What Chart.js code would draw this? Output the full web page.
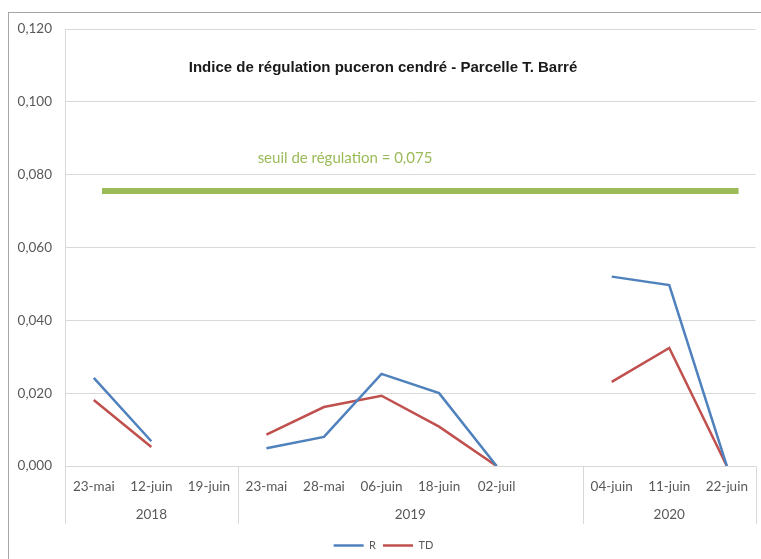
<!DOCTYPE html>
<html>
<head>
<meta charset="utf-8">
<script src="https://cdn.jsdelivr.net/npm/chart.js@4"></script>
<style>
  html, body { margin: 0; padding: 0; background: #fff; }
  #wrap { width: 761px; height: 559px; }
</style>
</head>
<body>
<div id="wrap"><canvas id="myChart" width="761" height="559"></canvas></div>
<script>
// dates de relevé (une case vide sépare 2019 et 2020)
const categories = ["23-mai", "12-juin", "19-juin", "23-mai", "28-mai", "06-juin", "18-juin", "02-juil", "", "04-juin", "11-juin", "22-juin"];
const years = ["2018", "2019", "2020"];
const yearSpans = [3, 6, 3];
const valuesR = [0.0242, 0.0068, null, 0.0049, 0.0080, 0.0253, 0.0200, 0, null, 0.0520, 0.0497, 0];
const valuesTD = [0.0181, 0.0052, null, 0.0086, 0.0162, 0.0193, 0.0108, 0, null, 0.0231, 0.0324, 0];
const seuil = 0.075;
const yTicks = [0, 0.02, 0.04, 0.06, 0.08, 0.1, 0.12];

const labelFont = "Lato, 'Liberation Sans', sans-serif";

const decorPlugin = {
  id: "decor",
  beforeDraw(chart) {
    const ctx = chart.ctx;
    ctx.save();
    ctx.fillStyle = "#fff";
    ctx.fillRect(0, 0, chart.width, chart.height);
    // cadre du graphique
    ctx.strokeStyle = "#a6a6a6";
    ctx.lineWidth = 1;
    ctx.strokeRect(8.5, 12.5, 800, 600);
    ctx.restore();
  },
  afterDatasetsDraw(chart) {
    const ctx = chart.ctx;
    const area = chart.chartArea;
    const y = chart.scales.y;
    ctx.save();

    // seuil de régulation (trait dessiné à la main dans l'original, un peu au-dessus)
    const ys = y.getPixelForValue(seuil) - 2;
    ctx.strokeStyle = "#9bbb59";
    ctx.lineWidth = 6;
    ctx.beginPath();
    ctx.moveTo(area.left + 37, ys);
    ctx.lineTo(area.right - 17, ys);
    ctx.stroke();
    ctx.fillStyle = "#9bbb59";
    ctx.font = "15px " + labelFont;
    ctx.textAlign = "center";
    ctx.textBaseline = "middle";
    ctx.fillText("seuil de régulation = 0,075", 345, 158);

    // titre
    ctx.fillStyle = "#1a1a1a";
    ctx.font = "bold 15px 'Liberation Sans', Arial, sans-serif";
    ctx.fillText("Indice de régulation puceron cendré - Parcelle T. Barré", 383, 68);

    // séparateurs et années
    const step = (area.right - area.left) / categories.length;
    ctx.strokeStyle = "#d9d9d9";
    ctx.lineWidth = 1;
    let idx = 0;
    const bounds = [area.left];
    yearSpans.forEach((n) => { idx += n; bounds.push(area.left + idx * step); });
    bounds.forEach((bx) => {
      const px = Math.round(bx) + 0.5;
      ctx.beginPath();
      ctx.moveTo(px, area.bottom);
      ctx.lineTo(px, area.bottom + 58);
      ctx.stroke();
    });
    ctx.fillStyle = "#595959";
    ctx.font = "13.5px " + labelFont;
    years.forEach((yr, i) => {
      ctx.fillText(yr, (bounds[i] + bounds[i + 1]) / 2, area.bottom + 49);
    });
    ctx.restore();
  }
};

const ctx = document.getElementById("myChart").getContext("2d");
const myChart = new Chart(ctx, {
  type: "line",
  data: {
    labels: categories,
    datasets: [
      {
        label: "R",
        data: valuesR,
        borderColor: "#4f81bd",
        backgroundColor: "#4f81bd",
        borderWidth: 2.5,
        pointRadius: 0,
        tension: 0,
        spanGaps: false,
      },
      {
        label: "TD",
        data: valuesTD,
        borderColor: "#c0504d",
        backgroundColor: "#c0504d",
        borderWidth: 2.5,
        pointRadius: 0,
        tension: 0,
        spanGaps: false,
      },
    ],
  },
  options: {
    responsive: false,
    animation: false,
    layout: { padding: { left: 8, top: 29, right: 2, bottom: -2 } },
    scales: {
      x: {
        offset: true,
        grid: { display: false, drawTicks: false },
        border: { display: false },
        ticks: {
          color: "#595959",
          font: { family: labelFont, size: 13.5 },
          padding: 13,
          maxRotation: 0,
          autoSkip: false,
        },
        afterFit: (s) => { s.height = 67; },
      },
      y: {
        min: 0,
        max: 0.12,
        afterBuildTicks: (s) => { s.ticks = yTicks.map((v) => ({ value: v })); },
        grid: { color: "#d9d9d9", drawTicks: false },
        border: { display: true, color: "#d9d9d9" },
        ticks: {
          color: "#595959",
          font: { family: labelFont, size: 13.5 },
          padding: 13,
          callback: (v) => v.toFixed(3).replace(".", ","),
        },
        afterFit: (s) => { s.width = 57; },
      },
    },
    plugins: {
      legend: {
        position: "bottom",
        labels: {
          usePointStyle: true,
          pointStyle: "line",
          pointStyleWidth: 30,
          color: "#595959",
          font: { family: labelFont, size: 11 },
          padding: 7,
        },
      },
      tooltip: { enabled: false },
    },
  },
  plugins: [decorPlugin],
});
</script>
</body>
</html>
